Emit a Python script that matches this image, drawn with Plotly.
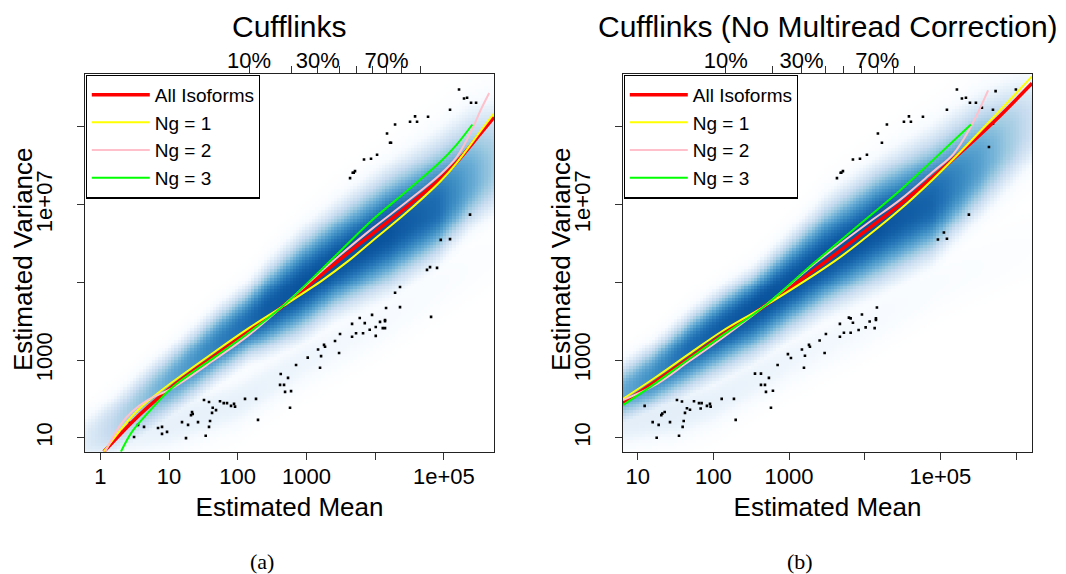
import numpy as np
import plotly.graph_objects as go

W, H = 1066, 574

# ---------------- data (log10 units) ----------------
curve_names = ["All Isoforms", "Ng = 1", "Ng = 2", "Ng = 3"]
curve_colors = ["#FF0000", "#FFFF00", "#FFC0CB", "#00FF00"]

# Panel (a): Cufflinks
a_all_lx = [0.05, 0.46, 0.70, 1.04, 1.67, 2.16, 2.645, 3.23, 3.49, 3.97, 4.46, 4.95, 5.19, 5.53, 5.73]
a_all_ly = [0.64, 1.40, 1.80, 2.31, 3.12, 3.74, 4.37, 5.21, 5.59, 6.26, 6.94, 7.67, 8.10, 8.82, 9.25]
a_ng1_lx = [0.05, 0.46, 0.70, 1.04, 1.67, 2.16, 2.645, 3.23, 3.61, 3.97, 4.46, 4.95, 5.19, 5.53, 5.73]
a_ng1_ly = [0.64, 1.55, 1.95, 2.42, 3.22, 3.82, 4.37, 5.05, 5.55, 6.08, 6.80, 7.60, 8.08, 8.88, 9.35]
a_ng2_lx = [0.07, 0.30, 0.46, 0.70, 1.04, 1.67, 2.16, 2.645, 3.23, 3.49, 3.97, 4.46, 4.95, 5.19, 5.415, 5.527, 5.66]
a_ng2_ly = [0.64, 1.35, 1.67, 1.98, 2.27, 3.02, 3.64, 4.37, 5.30, 5.70, 6.40, 7.07, 7.78, 8.23, 8.95, 9.40, 9.87]
a_ng3_lx = [0.30, 0.46, 0.70, 1.04, 1.67, 2.16, 2.645, 3.23, 3.49, 3.97, 4.46, 4.95, 5.19, 5.415]
a_ng3_ly = [0.64, 1.15, 1.65, 2.28, 3.08, 3.70, 4.37, 5.35, 5.80, 6.62, 7.35, 8.10, 8.55, 9.06]

# Panel (b): Cufflinks (No Multiread Correction)
b_all_lx = [0.806, 1.233, 1.674, 2.114, 2.664, 3.474, 4.025, 4.465, 4.905, 5.346, 5.786, 6.21]
b_all_ly = [1.89, 2.44, 3.04, 3.64, 4.37, 5.52, 6.34, 7.00, 7.72, 8.48, 9.28, 10.12]
b_ng1_lx = [0.806, 1.233, 1.674, 2.114, 2.664, 3.606, 4.025, 4.465, 4.905, 5.346, 5.786, 6.21]
b_ng1_ly = [2.00, 2.55, 3.15, 3.74, 4.37, 5.55, 6.17, 6.87, 7.66, 8.52, 9.42, 10.30]
b_ng2_lx = [0.806, 1.233, 1.674, 2.114, 2.664, 3.365, 4.025, 4.465, 4.905, 5.17, 5.40, 5.63]
b_ng2_ly = [1.97, 2.36, 2.96, 3.56, 4.37, 5.52, 6.50, 7.12, 7.85, 8.30, 9.00, 9.94]
b_ng3_lx = [0.806, 1.233, 1.674, 2.114, 2.664, 3.30, 4.025, 4.465, 4.905, 5.403]
b_ng3_ly = [1.84, 2.40, 3.02, 3.62, 4.37, 5.45, 6.64, 7.36, 8.15, 9.06]

# outlying points (log10 mean, log10 variance)
a_pts_lx = [5.221, 5.294, 5.338, 5.396, 5.469, 5.090, 4.581, 4.770, 4.508, 4.610, 4.290, 4.173, 4.217, 4.231,
            4.028, 3.940, 3.838, 3.707, 3.688, 3.674, 3.635, 5.381,
            4.955, 5.090, 4.755, 4.799, 4.901, 4.362, 4.290, 4.814, 4.362, 4.159, 3.776, 3.849, 3.955, 3.664,
            4.071, 4.144, 4.144, 4.009, 3.921, 4.111, 4.144, 3.489, 3.664, 3.722, 3.824, 4.009, 3.416, 3.169,
            3.256, 3.271, 3.213, 3.475, 3.019, 2.849, 3.198, 2.626, 2.732, 2.616, 2.674, 2.689, 2.776, 2.761,
            2.106, 2.266, 1.946, 1.902, 1.961, 2.295,
            1.742, 1.796, 1.844, 1.636, 1.684, 1.509, 1.582, 1.626, 1.335, 1.345, 1.320, 1.189, 1.277, 1.422,
            1.597, 1.582, 1.534, 1.247, 0.840, 0.898, 0.898, 0.971, 0.636, 0.549, 0.432, 0.316, 0.491]
a_pts_ly = [9.96, 9.73, 9.75, 9.62, 9.62, 9.44, 9.27, 9.26, 9.13, 9.13, 9.06, 8.83, 8.59, 8.59,
            8.28, 8.18, 8.16, 7.86, 7.82, 7.82, 7.68, 6.74,
            6.09, 6.11, 5.32, 5.39, 5.37, 4.88, 4.73, 4.11, 4.36, 4.34, 4.08, 3.95, 4.16, 3.93,
            3.98, 4.03, 4.00, 3.85, 3.78, 3.82, 3.82, 3.67, 3.60, 3.69, 3.69, 3.62, 3.49, 3.27,
            3.39, 3.34, 3.10, 3.18, 3.06, 2.87, 2.80, 2.64, 2.54, 2.36, 2.36, 2.18, 2.20, 1.77,
            2.00, 2.00, 1.87, 1.82, 1.80, 1.46,
            1.94, 1.89, 1.89, 1.77, 1.71, 1.97, 1.92, 1.64, 1.66, 1.61, 1.58, 1.40, 1.33, 1.40,
            1.43, 1.28, 1.05, 0.99, 1.25, 1.28, 1.10, 1.15, 1.28, 1.33, 1.38, 1.15, 1.02]

b_pts_lx = [5.218, 5.729, 5.997, 5.284, 5.337, 5.390, 5.469, 5.548, 5.086, 5.694, 4.584, 4.769, 4.518, 4.610,
            4.293, 5.694, 4.174, 4.227, 4.029, 3.937, 3.844, 3.712, 3.690, 3.682, 3.633, 5.641, 5.376, 5.046,
            4.967, 5.086,
            4.161, 4.148, 4.148, 3.963, 4.065, 4.012, 4.131, 3.919, 3.844, 3.814, 3.791, 3.672, 3.725, 3.672,
            3.814, 3.487, 3.404, 3.470, 3.263, 3.276, 3.170, 3.210, 3.197, 2.985, 3.025, 2.849, 2.734, 2.550,
            2.629, 2.629, 2.682, 2.695, 2.787, 2.761, 2.295, 2.272, 2.110, 1.955, 1.964, 1.915, 1.845, 1.810,
            1.832, 1.744, 1.691, 1.651, 1.625, 1.585, 1.519, 1.608, 1.594, 1.546, 1.427, 1.357, 1.325, 1.312,
            1.277, 1.198, 1.092, 1.251]
b_pts_ly = [9.96, 9.92, 9.96, 9.73, 9.75, 9.62, 9.62, 9.49, 9.44, 9.44, 9.27, 9.26, 9.13, 9.13,
            9.06, 9.08, 8.83, 8.59, 8.28, 8.18, 8.16, 7.86, 7.82, 7.82, 7.68, 8.48, 6.74, 6.28,
            6.10, 6.12,
            4.35, 4.07, 4.03, 4.17, 3.99, 3.84, 3.82, 3.77, 3.96, 4.07, 4.09, 3.93, 3.70, 3.60,
            3.70, 3.67, 3.50, 3.18, 3.39, 3.34, 3.27, 3.11, 2.80, 3.15, 3.05, 2.87, 2.54, 2.65,
            2.65, 2.36, 2.36, 2.18, 2.21, 1.77, 1.46, 2.00, 2.00, 1.87, 1.80, 1.82, 1.89, 1.89,
            1.75, 1.94, 1.72, 1.76, 1.64, 1.93, 1.97, 1.43, 1.28, 1.05, 1.40, 1.66, 1.62, 1.58,
            1.33, 1.40, 1.82, 1.00]

# smoothed-density band (per log10-mean column)
a_band_lx = [-0.25, 0.2, 0.7, 1.0, 1.67, 2.16, 2.4, 2.9, 3.4, 4.2, 4.9, 5.4, 5.8]
a_band_center = [0.9, 1.3, 2.0, 2.4, 3.35, 3.95, 4.25, 4.85, 5.45, 6.3, 6.9, 7.6, 8.0]
a_band_up = [0.75, 0.85, 0.9, 0.9, 0.95, 1.0, 1.15, 1.35, 1.45, 1.6, 1.8, 1.9, 1.9]
a_band_down = [0.75, 0.85, 0.95, 0.95, 0.95, 0.95, 1.1, 1.3, 1.3, 1.5, 1.35, 1.25, 1.25]
a_band_peak = [0.2, 0.36, 0.5, 0.58, 0.72, 0.8, 0.85, 0.88, 0.88, 0.88, 0.8, 0.58, 0.4]
a_tail_lx = [-0.25, 1.0, 2.0, 3.0, 4.0, 5.0, 5.8]
a_tail_center = [0.9, 1.3, 1.9, 3.0, 3.9, 5.0, 5.8]
a_tail_peak = [0.15, 0.18, 0.18, 0.15, 0.12, 0.08, 0.04]

b_band_lx = [0.7, 1.2, 1.67, 2.1, 2.55, 3.0, 3.5, 4.2, 4.9, 5.5, 6.0, 6.3]
b_band_center = [2.0, 2.55, 3.25, 3.8, 4.35, 4.95, 5.6, 6.45, 7.05, 8.0, 8.8, 9.2]
b_band_up = [0.85, 0.9, 0.95, 1.0, 1.0, 1.2, 1.5, 1.6, 1.8, 1.8, 1.6, 1.45]
b_band_down = [0.8, 0.9, 1.1, 1.2, 1.3, 1.3, 1.35, 1.55, 1.45, 1.35, 1.3, 1.2]
b_band_peak = [0.55, 0.68, 0.8, 0.85, 0.88, 0.88, 0.88, 0.88, 0.82, 0.62, 0.4, 0.25]
b_tail_lx = [0.7, 1.5, 2.0, 3.0, 4.0, 5.0, 6.3]
b_tail_center = [1.4, 1.6, 1.9, 3.0, 3.9, 5.0, 6.0]
b_tail_peak = [0.2, 0.2, 0.18, 0.15, 0.12, 0.08, 0.04]

# axis ticks
a_xticks = [1, 10, 100, 1000, 1e4, 1e5]
a_xticktext = ["1", "10", "100", "1000", "", "1e+05"]
b_xticks = [10, 100, 1000, 1e4, 1e5, 1e6]
b_xticktext = ["10", "100", "1000", "", "1e+05", ""]
yticks = [10, 1e3, 1e5, 1e7, 1e9]
yticktext = ["10", "1000", "", "1e+07", ""]
pct_lx = [2.165, 2.785, 3.165, 3.48, 3.725, 3.955, 4.165, 4.385, 4.655]
pct_text = ["10%", "", "30%", "", "", "", "70%", "", ""]

# ---------------- layout geometry ----------------
a_xrange = [-0.223, 5.73]
b_xrange = [0.806, 6.21]
y_range = [0.64, 10.36]
a_dom = [85 / W, 494 / W]
b_dom = [623 / W, 1032 / W]
y_dom = [1 - 451.7 / H, 1 - 74 / H]

blues = ["#FFFFFF", "#F7FBFF", "#DEEBF7", "#C6DBEF", "#9ECAE1", "#6BAED6",
         "#4292C6", "#2171B5", "#08519C", "#08306B"]
colorscale = [[i / 9, c] for i, c in enumerate(blues)]


def density(xr, cols, center, up, down, peak, tcols, tcenter, tpeak):
    xe = np.linspace(xr[0], xr[1], 129)
    ye = np.linspace(y_range[0], y_range[1], 129)
    xc = (xe[:-1] + xe[1:]) / 2
    yc = (ye[:-1] + ye[1:]) / 2
    X, Y = np.meshgrid(xc, yc)
    c = np.interp(X, cols, center)
    d = Y - c
    hw = np.where(d > 0, np.interp(X, cols, up), np.interp(X, cols, down))
    z1 = np.interp(X, cols, peak) * np.exp(-0.5 * np.abs(d / (hw / 1.5)) ** 2.5)
    tc = np.interp(X, tcols, tcenter)
    z2 = np.interp(X, tcols, tpeak) * np.exp(-0.5 * np.abs((Y - tc) / 0.55) ** 2.5)
    return 10 ** xe, 10 ** ye, np.maximum(z1, z2)


fig = go.Figure()

panels = [
    dict(xa="x", ya="y", legend="legend", xr=a_xrange,
         dens=(a_band_lx, a_band_center, a_band_up, a_band_down, a_band_peak,
               a_tail_lx, a_tail_center, a_tail_peak),
         pts=(a_pts_lx, a_pts_ly),
         curves=[(a_all_lx, a_all_ly), (a_ng1_lx, a_ng1_ly), (a_ng2_lx, a_ng2_ly), (a_ng3_lx, a_ng3_ly)]),
    dict(xa="x2", ya="y2", legend="legend2", xr=b_xrange,
         dens=(b_band_lx, b_band_center, b_band_up, b_band_down, b_band_peak,
               b_tail_lx, b_tail_center, b_tail_peak),
         pts=(b_pts_lx, b_pts_ly),
         curves=[(b_all_lx, b_all_ly), (b_ng1_lx, b_ng1_ly), (b_ng2_lx, b_ng2_ly), (b_ng3_lx, b_ng3_ly)]),
]

for p in panels:
    hx, hy, hz = density(p["xr"], *p["dens"])
    fig.add_trace(go.Heatmap(x=hx, y=hy, z=hz, colorscale=colorscale, zmin=0, zmax=1,
                             showscale=False, hoverinfo="skip", xaxis=p["xa"], yaxis=p["ya"]))
    fig.add_trace(go.Scatter(x=10 ** np.array(p["pts"][0]), y=10 ** np.array(p["pts"][1]),
                             mode="markers", marker=dict(symbol="square", size=2.6, color="black"),
                             showlegend=False, xaxis=p["xa"], yaxis=p["ya"]))
    for (lx, ly), name, col in zip(p["curves"], curve_names, curve_colors):
        fig.add_trace(go.Scatter(x=10 ** np.array(lx), y=10 ** np.array(ly), mode="lines", name=name,
                                 line=dict(color=col, width=3.5 if name == "All Isoforms" else 2,
                                           shape="spline", smoothing=1.0),
                                 legend=p["legend"], xaxis=p["xa"], yaxis=p["ya"]))

# invisible traces that carry the top percentile axes
fig.add_trace(go.Scatter(x=[10 ** pct_lx[0]], y=[10], mode="markers", marker=dict(opacity=0),
                         showlegend=False, hoverinfo="skip", xaxis="x3", yaxis="y"))
fig.add_trace(go.Scatter(x=[10 ** pct_lx[0]], y=[10], mode="markers", marker=dict(opacity=0),
                         showlegend=False, hoverinfo="skip", xaxis="x4", yaxis="y2"))

FONT = "Liberation Sans, Arial, sans-serif"
common_x = dict(type="log", showgrid=False, zeroline=False, ticks="outside", ticklen=7, tickwidth=1,
                tickcolor="#333", showline=True, mirror=True, linecolor="#222", linewidth=1.3,
                tickfont=dict(family=FONT, size=22, color="black"))
common_y = dict(common_x, tickangle=-90, domain=y_dom, range=y_range,
                tickvals=yticks, ticktext=yticktext, ticklabelstandoff=16)
xt = dict(text="Estimated Mean", font=dict(family=FONT, size=26, color="black"), standoff=9)
top_x = dict(type="log", showgrid=False, zeroline=False, ticks="outside", ticklen=7, tickwidth=1,
             tickcolor="#333", showline=False, side="top",
             tickfont=dict(family=FONT, size=22, color="black"), ticklabelstandoff=-11,
             tickvals=[10 ** v for v in pct_lx], ticktext=pct_text)

legend_common = dict(y=1 - 74.5 / H, xanchor="left", yanchor="top", bgcolor="white",
                     bordercolor="black", borderwidth=1.3,
                     font=dict(family=FONT, size=19, color="black"), itemwidth=58)

fig.update_layout(
    width=W, height=H, margin=dict(l=0, r=0, t=0, b=0),
    paper_bgcolor="white", plot_bgcolor="white",
    xaxis=dict(common_x, domain=a_dom, range=a_xrange, anchor="y", ticklabelstandoff=-2,
               tickvals=a_xticks, ticktext=a_xticktext, title=xt),
    yaxis=dict(common_y, anchor="x"),
    xaxis2=dict(common_x, domain=b_dom, range=b_xrange, anchor="y2", ticklabelstandoff=-2,
                tickvals=b_xticks, ticktext=b_xticktext, title=xt),
    yaxis2=dict(common_y, anchor="x2"),
    xaxis3=dict(top_x, overlaying="x", anchor="y", range=a_xrange),
    xaxis4=dict(top_x, overlaying="x2", anchor="y2", range=b_xrange),
    legend=dict(legend_common, x=85.5 / W),
    legend2=dict(legend_common, x=623.5 / W),
    annotations=[
        dict(text="Cufflinks", x=289.5 / W, y=1 - 26.3 / H, xref="paper", yref="paper",
             xanchor="center", yanchor="middle", showarrow=False,
             font=dict(family=FONT, size=30, color="black")),
        dict(text="Cufflinks (No Multiread Correction)", x=827.5 / W, y=1 - 26.3 / H,
             xref="paper", yref="paper", xanchor="center", yanchor="middle", showarrow=False,
             font=dict(family=FONT, size=30, color="black")),
        dict(text="Estimated Variance", x=23 / W, y=1 - 259 / H, xref="paper", yref="paper",
             xanchor="center", yanchor="middle", textangle=-90, showarrow=False,
             font=dict(family=FONT, size=26, color="black")),
        dict(text="Estimated Variance", x=561 / W, y=1 - 259 / H, xref="paper", yref="paper",
             xanchor="center", yanchor="middle", textangle=-90, showarrow=False,
             font=dict(family=FONT, size=26, color="black")),
        dict(text="(a)", x=262 / W, y=1 - 561.5 / H, xref="paper", yref="paper",
             xanchor="center", yanchor="middle", showarrow=False,
             font=dict(family="Liberation Serif, Times New Roman, serif", size=22, color="black")),
        dict(text="(b)", x=799.5 / W, y=1 - 561.5 / H, xref="paper", yref="paper",
             xanchor="center", yanchor="middle", showarrow=False,
             font=dict(family="Liberation Serif, Times New Roman, serif", size=22, color="black")),
    ],
)

fig.write_html("out.html")
